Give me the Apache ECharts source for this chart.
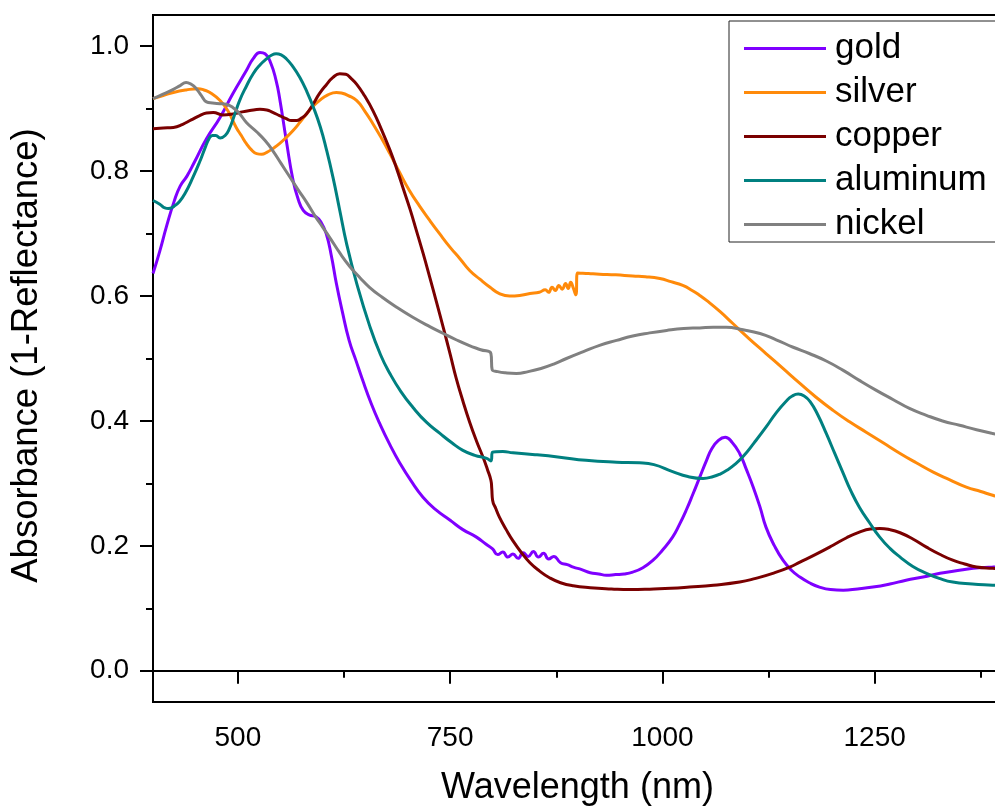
<!DOCTYPE html>
<html>
<head>
<meta charset="utf-8">
<script src="https://cdn.jsdelivr.net/npm/echarts@6/dist/echarts.min.js"></script>
<style>
  html, body { margin: 0; padding: 0; background: #fff; overflow: hidden; }
  #chart { width: 995px; height: 811px; }
</style>
</head>
<body>
<div id="chart"></div>
<script>
// ---- data (wavelength nm, absorbance) ----
const seriesNames = ['gold', 'silver', 'copper', 'aluminum', 'nickel'];
const seriesColors = ['#7F00FF', '#FF8A0A', '#7A0000', '#008080', '#808080'];

const xMajorTicks = [500, 750, 1000, 1250];
const xMinorTicks = [625, 875, 1125, 1375];
const yMajorTicks = [0, 0.2, 0.4, 0.6, 0.8, 1.0];
const yMinorTicks = [0.1, 0.3, 0.5, 0.7, 0.9];

const gold = [[400,0.636],[408,0.672],[416,0.712],[425,0.752],[432,0.776],[440,0.792],[449,0.815],[463,0.852],[479,0.886],[494,0.924],[510,0.961],[518,0.980],[526,0.990],[532,0.988],[539,0.972],[545,0.945],[549,0.918],[557,0.849],[565,0.785],[571,0.755],[577,0.737],[584,0.730],[592,0.727],[598,0.718],[604,0.700],[610,0.665],[616,0.620],[623,0.575],[631,0.529],[639,0.497],[647,0.465],[657,0.428],[667,0.396],[679,0.362],[691,0.332],[704,0.304],[718,0.278],[733,0.258],[750,0.241],[765,0.226],[781,0.214],[792,0.203],[800,0.195],[806,0.186],[812,0.190],[818,0.182],[824,0.187],[830,0.180],[836,0.189],[842,0.183],[848,0.191],[854,0.182],[860,0.188],[866,0.179],[872,0.183],[880,0.173],[888,0.170],[895,0.166],[905,0.162],[915,0.157],[925,0.155],[934,0.153],[945,0.154],[955,0.155],[965,0.158],[977,0.165],[989,0.177],[1000,0.193],[1012,0.214],[1020,0.234],[1028,0.257],[1036,0.283],[1044,0.310],[1052,0.337],[1058,0.355],[1066,0.369],[1074,0.374],[1082,0.366],[1091,0.348],[1099,0.322],[1107,0.294],[1115,0.262],[1122,0.230],[1132,0.200],[1142,0.177],[1152,0.161],[1162,0.150],[1173,0.141],[1185,0.134],[1198,0.130],[1213,0.129],[1230,0.131],[1248,0.134],[1268,0.139],[1287,0.145],[1307,0.150],[1327,0.156],[1346,0.160],[1366,0.164],[1389,0.166],[1400,0.167]];

const silver = [[400,0.916],[412,0.921],[424,0.926],[439,0.930],[453,0.932],[460,0.930],[467,0.926],[479,0.913],[488,0.897],[498,0.870],[504,0.857],[510,0.844],[516,0.834],[522,0.828],[528,0.827],[534,0.830],[541,0.836],[549,0.844],[557,0.854],[565,0.865],[573,0.878],[581,0.892],[588,0.903],[596,0.913],[606,0.922],[616,0.926],[622,0.925],[630,0.921],[640,0.913],[649,0.897],[659,0.876],[669,0.853],[679,0.828],[690,0.799],[702,0.769],[714,0.744],[726,0.721],[738,0.699],[750,0.678],[762,0.659],[773,0.641],[785,0.627],[797,0.614],[808,0.604],[820,0.600],[832,0.601],[844,0.604],[855,0.606],[862,0.610],[866,0.606],[870,0.614],[874,0.609],[878,0.617],[882,0.611],[886,0.620],[889,0.612],[892,0.622],[895,0.613],[898,0.602],[900,0.637],[913,0.636],[926,0.635],[945,0.634],[965,0.632],[980,0.631],[997,0.628],[1010,0.623],[1024,0.617],[1035,0.609],[1044,0.601],[1052,0.593],[1068,0.575],[1083,0.556],[1102,0.532],[1122,0.508],[1142,0.484],[1162,0.460],[1181,0.438],[1201,0.417],[1220,0.399],[1240,0.382],[1260,0.365],[1280,0.348],[1299,0.333],[1319,0.318],[1338,0.306],[1358,0.294],[1375,0.287],[1389,0.281],[1400,0.277]];

const copper = [[400,0.868],[412,0.869],[424,0.870],[435,0.875],[445,0.882],[455,0.889],[463,0.893],[471,0.894],[482,0.890],[492,0.891],[502,0.894],[514,0.897],[526,0.899],[534,0.898],[541,0.894],[549,0.889],[557,0.884],[563,0.881],[569,0.881],[575,0.885],[581,0.892],[588,0.906],[596,0.924],[604,0.938],[612,0.950],[620,0.956],[627,0.955],[633,0.949],[640,0.939],[649,0.921],[659,0.897],[669,0.867],[679,0.834],[687,0.804],[695,0.771],[703,0.738],[710,0.706],[718,0.669],[726,0.630],[734,0.590],[742,0.549],[750,0.507],[757,0.469],[765,0.432],[773,0.398],[781,0.368],[789,0.341],[794,0.322],[798,0.305],[799,0.292],[800,0.273],[804,0.259],[808,0.246],[816,0.226],[824,0.208],[834,0.189],[844,0.173],[855,0.160],[867,0.149],[880,0.141],[895,0.136],[915,0.133],[940,0.131],[962,0.130],[990,0.131],[1010,0.132],[1032,0.134],[1060,0.137],[1091,0.142],[1110,0.148],[1130,0.156],[1150,0.166],[1162,0.174],[1180,0.186],[1201,0.201],[1217,0.213],[1232,0.222],[1245,0.227],[1256,0.228],[1268,0.226],[1280,0.221],[1295,0.211],[1311,0.198],[1326,0.187],[1342,0.177],[1356,0.171],[1370,0.166],[1389,0.164],[1400,0.163]];

const aluminum = [[400,0.753],[408,0.747],[414,0.741],[418,0.740],[425,0.744],[431,0.751],[438,0.765],[447,0.790],[455,0.815],[461,0.836],[466,0.852],[470,0.857],[474,0.857],[479,0.853],[485,0.857],[490,0.868],[496,0.890],[502,0.913],[510,0.936],[518,0.956],[526,0.970],[534,0.980],[540,0.986],[545,0.988],[551,0.986],[557,0.980],[565,0.967],[573,0.950],[581,0.928],[589,0.902],[597,0.871],[604,0.836],[612,0.790],[620,0.737],[628,0.684],[640,0.620],[655,0.553],[668,0.506],[679,0.476],[692,0.447],[706,0.422],[722,0.398],[738,0.380],[752,0.365],[765,0.353],[779,0.345],[793,0.340],[798,0.336],[800,0.350],[812,0.351],[824,0.349],[850,0.346],[879,0.342],[910,0.337],[946,0.334],[973,0.333],[990,0.330],[1012,0.319],[1030,0.311],[1048,0.308],[1060,0.311],[1068,0.315],[1076,0.321],[1085,0.330],[1095,0.343],[1108,0.365],[1122,0.390],[1134,0.413],[1146,0.432],[1153,0.440],[1160,0.443],[1167,0.440],[1174,0.431],[1183,0.410],[1193,0.380],[1203,0.348],[1213,0.316],[1222,0.288],[1232,0.262],[1244,0.237],[1256,0.214],[1268,0.196],[1280,0.182],[1295,0.167],[1311,0.156],[1326,0.148],[1342,0.142],[1365,0.139],[1389,0.137],[1400,0.136]];

const nickel = [[400,0.916],[410,0.922],[424,0.931],[432,0.937],[439,0.942],[445,0.939],[451,0.932],[457,0.921],[463,0.911],[470,0.909],[479,0.908],[486,0.907],[494,0.902],[502,0.892],[510,0.878],[522,0.863],[532,0.849],[541,0.833],[551,0.812],[561,0.791],[571,0.770],[581,0.750],[590,0.730],[600,0.710],[608,0.694],[620,0.669],[632,0.647],[644,0.629],[655,0.614],[670,0.598],[687,0.582],[706,0.566],[726,0.551],[742,0.540],[757,0.530],[772,0.521],[786,0.514],[798,0.508],[799.5,0.482],[806,0.479],[815,0.477],[828,0.476],[842,0.479],[857,0.484],[872,0.491],[887,0.500],[907,0.511],[926,0.521],[946,0.529],[965,0.536],[985,0.541],[1005,0.545],[1025,0.548],[1044,0.549],[1060,0.550],[1075,0.550],[1095,0.546],[1115,0.540],[1134,0.530],[1154,0.518],[1173,0.508],[1193,0.496],[1213,0.481],[1232,0.465],[1252,0.449],[1272,0.434],[1291,0.420],[1311,0.409],[1330,0.400],[1350,0.393],[1370,0.386],[1389,0.380],[1400,0.377]];

const seriesData = [gold, silver, copper, aluminum, nickel];

// ---- chart ----
const FONT = 'Liberation Sans, Arial, sans-serif';
const chart = echarts.init(document.getElementById('chart'), null, { renderer: 'canvas' });

const axisCommon = {
  type: 'value',
  axisLine: { show: true, lineStyle: { color: '#000', width: 2 } },
  splitLine: { show: false },
};

const option = {
  animation: false,
  backgroundColor: '#fff',
  grid: {
    left: 153, top: 15, width: 849, height: 687,
    containLabel: false, outerBoundsMode: 'none',
    show: true, borderColor: '#000', borderWidth: 2, backgroundColor: 'transparent'
  },
  legend: {
    left: 729, top: 21, orient: 'vertical',
    backgroundColor: '#fff', borderColor: '#222', borderWidth: 1,
    padding: [10, 40, 0, 15],
    icon: 'rect',
    itemWidth: 82, itemHeight: 3, itemGap: 9,
    textStyle: { fontSize: 35, fontFamily: FONT, color: '#000', lineHeight: 34, padding: [0, 0, 0, 4] },
    data: seriesNames
  },
  xAxis: [
    Object.assign({}, axisCommon, {
      min: 400, max: 1400,
      name: 'Wavelength (nm)', nameLocation: 'middle', nameGap: 68,
      nameTextStyle: { fontSize: 36, fontFamily: FONT, color: '#000' },
      axisTick: { show: true, inside: false, length: 13, lineStyle: { color: '#000', width: 2 }, customValues: xMajorTicks },
      axisLabel: { show: true, margin: 22, fontSize: 28, fontFamily: FONT, color: '#000', customValues: xMajorTicks,
        formatter: v => String(Math.round(v)) }
    }),
    Object.assign({}, axisCommon, {
      min: 400, max: 1400, position: 'bottom',
      axisLine: { show: false },
      axisTick: { show: true, inside: false, length: 7, lineStyle: { color: '#000', width: 2 }, customValues: xMinorTicks },
      axisLabel: { show: false }
    })
  ],
  yAxis: [
    Object.assign({}, axisCommon, {
      min: -0.05, max: 1.05,
      name: 'Absorbance (1-Reflectance)', nameLocation: 'middle', nameGap: 108,
      nameTextStyle: { fontSize: 36.5, fontFamily: FONT, color: '#000', padding: [0, 0, 0, 6] },
      axisTick: { show: true, inside: false, length: 13, lineStyle: { color: '#000', width: 2 }, customValues: yMajorTicks },
      axisLabel: { show: true, margin: 24, fontSize: 28, fontFamily: FONT, color: '#000', customValues: yMajorTicks,
        formatter: v => v.toFixed(1) }
    }),
    Object.assign({}, axisCommon, {
      min: -0.05, max: 1.05, position: 'left',
      axisLine: { show: false },
      axisTick: { show: true, inside: false, length: 7, lineStyle: { color: '#000', width: 2 }, customValues: yMinorTicks },
      axisLabel: { show: false }
    })
  ],
  series: seriesNames.map((name, i) => ({
    name: name,
    type: 'line',
    xAxisIndex: 0, yAxisIndex: 0,
    data: seriesData[i],
    symbol: 'none',
    smooth: 0.5,
    color: seriesColors[i],
    lineStyle: { color: seriesColors[i], width: 3 },
    emphasis: { disabled: true }
  }))
};

chart.setOption(option);
</script>
</body>
</html>
